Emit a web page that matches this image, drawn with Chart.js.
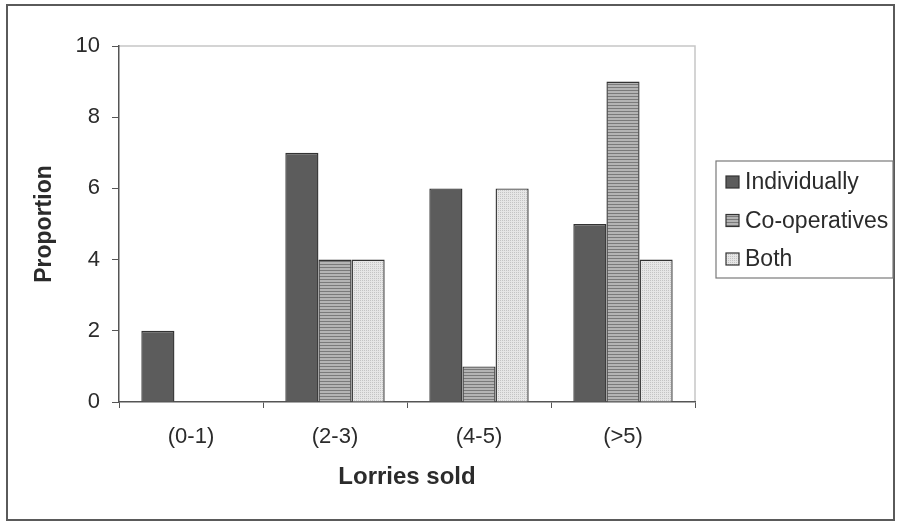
<!DOCTYPE html>
<html>
<head>
<meta charset="utf-8">
<title>Lorries sold</title>
<script src="https://cdn.jsdelivr.net/npm/chart.js@4/dist/chart.umd.min.js"></script>
<style>
  html, body { margin: 0; padding: 0; background: #ffffff; }
  #wrap { width: 900px; height: 525px; position: relative; }
</style>
</head>
<body>
<div id="wrap"><canvas id="c" width="900" height="525"></canvas></div>
<script>
// Categories and series values
const categories = ['(0-1)', '(2-3)', '(4-5)', '(>5)'];
const seriesNames = ['Individually', 'Co-operatives', 'Both'];
const individually = [2, 7, 6, 5];
const cooperatives = [0, 4, 1, 9];
const both = [0, 4, 6, 4];
const yTicks = [0, 2, 4, 6, 8, 10];

const FONT = "'Liberation Sans', Arial, sans-serif";
const TEXT = '#2b2b2b';

// Fill patterns for the three series
function makePattern(size, draw) {
  const c = document.createElement('canvas');
  c.width = size; c.height = size;
  const g = c.getContext('2d');
  draw(g, size);
  return document.getElementById('c').getContext('2d').createPattern(c, 'repeat');
}
const solidDark = makePattern(4, (g, s) => {
  g.fillStyle = '#5c5c5c'; g.fillRect(0, 0, s, s);
});
const stripes = makePattern(3, (g, s) => {
  g.fillStyle = '#b4b4b4'; g.fillRect(0, 0, s, s);
  g.fillStyle = '#7a7a7a'; g.fillRect(0, 0, s, 1);
});
const dots = makePattern(2, (g, s) => {
  g.fillStyle = '#e6e6e6'; g.fillRect(0, 0, s, s);
  g.fillStyle = '#c4c4c4'; g.fillRect(0, 0, 1, 1);
});
const fills = [solidDark, stripes, dots];

// Frame, plot-area outline and legend box
const framePlugin = {
  id: 'frame',
  beforeDraw(chart) {
    const ctx = chart.ctx;
    const a = chart.chartArea;
    ctx.save();
    ctx.fillStyle = '#ffffff';
    ctx.fillRect(0, 0, chart.width, chart.height);
    ctx.strokeStyle = '#5a5a5a';
    ctx.lineWidth = 2;
    ctx.strokeRect(7, 5, 887, 515);
    ctx.strokeStyle = '#c6c6c6';
    ctx.lineWidth = 1.5;
    ctx.beginPath();
    ctx.moveTo(a.left, a.top);
    ctx.lineTo(a.right, a.top);
    ctx.lineTo(a.right, a.bottom);
    ctx.stroke();
    ctx.restore();
  },
  afterDraw(chart) {
    const ctx = chart.ctx;
    const bx = 716, by = 161, bw = 177, bh = 117;
    ctx.save();
    ctx.strokeStyle = '#7a7a7a';
    ctx.lineWidth = 1.2;
    ctx.strokeRect(bx, by, bw, bh);
    ctx.font = '23px ' + FONT;
    ctx.textBaseline = 'middle';
    ctx.textAlign = 'left';
    chart.data.datasets.forEach((ds, i) => {
      const cy = 182 + i * 38.5;
      ctx.fillStyle = ds.backgroundColor;
      ctx.fillRect(726, cy - 6, 13, 12);
      ctx.strokeStyle = '#333333';
      ctx.lineWidth = 1.2;
      ctx.strokeRect(726, cy - 6, 13, 12);
      ctx.fillStyle = TEXT;
      ctx.fillText(ds.label, 745, cy + 1);
    });
    ctx.restore();
  }
};

const datasets = [individually, cooperatives, both].map((vals, i) => ({
  label: seriesNames[i],
  data: vals,
  backgroundColor: fills[i],
  borderColor: '#333333',
  borderWidth: 1.4,
  borderSkipped: 'bottom',
  categoryPercentage: 0.69,
  barPercentage: 1.0
}));

new Chart(document.getElementById('c'), {
  type: 'bar',
  data: { labels: categories, datasets },
  plugins: [framePlugin],
  options: {
    responsive: false,
    animation: false,
    devicePixelRatio: 1,
    layout: { padding: { left: 27, right: 205, top: 46, bottom: 29 } },
    plugins: {
      legend: { display: false },
      tooltip: { enabled: false }
    },
    scales: {
      x: {
        afterFit(scale) { scale.height = 94; },
        grid: {
          offset: true,
          drawOnChartArea: false,
          drawTicks: true,
          tickLength: 6,
          color: '#555555'
        },
        border: { color: '#555555', width: 1.5 },
        ticks: {
          color: TEXT,
          padding: 16,
          maxRotation: 0,
          font: { family: FONT, size: 22 }
        },
        title: {
          display: true,
          text: 'Lorries sold',
          color: TEXT,
          font: { family: FONT, size: 24, weight: 'bold' }
        }
      },
      y: {
        min: 0,
        max: 10,
        afterFit(scale) { scale.width = 92; },
        afterBuildTicks(scale) { scale.ticks = yTicks.map(v => ({ value: v })); },
        grid: {
          drawOnChartArea: false,
          drawTicks: true,
          tickLength: 7,
          color: '#555555'
        },
        border: { color: '#555555', width: 1.5 },
        ticks: {
          color: TEXT,
          padding: 12,
          font: { family: FONT, size: 22 }
        },
        title: {
          display: true,
          text: 'Proportion',
          color: TEXT,
          font: { family: FONT, size: 23, weight: 'bold' }
        }
      }
    }
  }
});
</script>
</body>
</html>
